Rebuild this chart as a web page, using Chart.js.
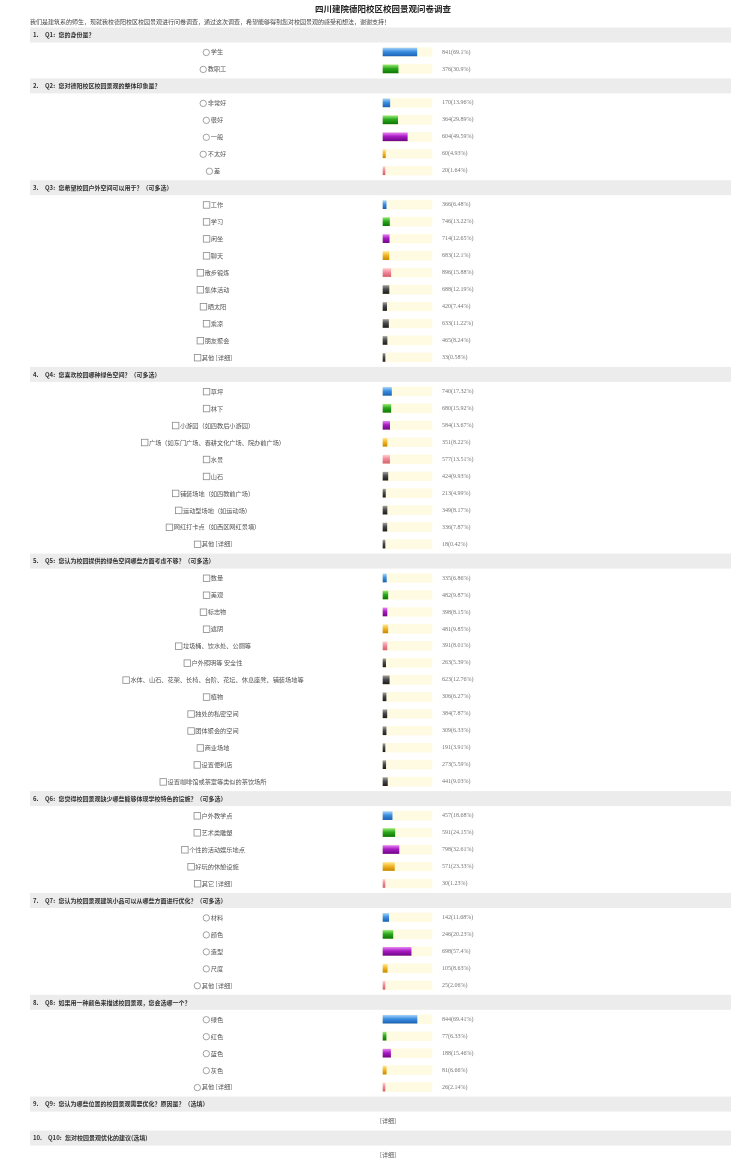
<!DOCTYPE html>
<html>
<head>
<meta charset="utf-8">
<title>四川建院德阳校区校园景观问卷调查</title>
<script src="https://cdn.jsdelivr.net/npm/chart.js@4.4.0/dist/chart.umd.min.js"></script>
<style>
  html, body { margin: 0; padding: 0; background: #fff; }
  canvas { display: block; }
</style>
</head>
<body>
<canvas id="surveyChart" width="750" height="1161"></canvas>
<script>
const surveyTitle = "四川建院德阳校区校园景观问卷调查";
const surveyIntro = "我们是建筑系的师生，现就我校德阳校区校园景观进行问卷调查，通过这次调查，希望能够得到您对校园景观的感受和想法，谢谢支持！";

const questionTitles = [
  "您的身份是？",
  "您对德阳校区校园景观的整体印象是？",
  "您希望校园户外空间可以用于？（可多选）",
  "您喜欢校园哪种绿色空间？（可多选）",
  "您认为校园提供的绿色空间哪些方面考虑不够？（可多选）",
  "您觉得校园景观缺少哪些能够体现学校特色的设施？（可多选）",
  "您认为校园景观建筑小品可以从哪些方面进行优化？（可多选）",
  "如果用一种颜色来描述校园景观，您会选哪一个？",
  "您认为哪些位置的校园景观需要优化？原因是？（选填）",
  "您对校园景观优化的建议(选填)"
];
const questionTypes = ["radio", "radio", "check", "check", "check", "check", "radio", "radio", "text", "text"];

const q1Options = ["学生", "教职工"];
const q1Counts = [841, 376];
const q1Percents = [69.1, 30.9];

const q2Options = ["非常好", "很好", "一般", "不太好", "差"];
const q2Counts = [170, 364, 604, 60, 20];
const q2Percents = [13.96, 29.89, 49.59, 4.93, 1.64];

const q3Options = ["工作", "学习", "闲坐", "聊天", "散步锻炼", "集体活动", "晒太阳", "乘凉", "朋友聚会", "其他 [详细]"];
const q3Counts = [366, 746, 714, 683, 896, 688, 420, 633, 465, 33];
const q3Percents = [6.48, 13.22, 12.65, 12.1, 15.88, 12.19, 7.44, 11.22, 8.24, 0.58];

const q4Options = ["草坪", "林下", "小游园（如四教后小游园）", "广场（如东门广场、春耕文化广场、院办前广场）", "水景", "山石",
  "铺装场地（如四教前广场）", "运动型场地（如运动场）", "网红打卡点（如西区网红景墙）", "其他 [详细]"];
const q4Counts = [740, 680, 584, 351, 577, 424, 213, 349, 336, 18];
const q4Percents = [17.32, 15.92, 13.67, 8.22, 13.51, 9.93, 4.99, 8.17, 7.87, 0.42];

const q5Options = ["数量", "美观", "标志物", "遮阴", "垃圾桶、饮水处、公厕等", "户外照明等 安全性",
  "水体、山石、花架、长椅、台阶、花坛、休息座凳、铺装场地等", "植物", "独处的私密空间", "团体聚会的空间",
  "商业场地", "设置便利店", "设置咖啡馆或茶室等类似的茶饮场所"];
const q5Counts = [335, 482, 398, 481, 391, 263, 623, 306, 384, 309, 191, 273, 441];
const q5Percents = [6.86, 9.87, 8.15, 9.85, 8.01, 5.39, 12.76, 6.27, 7.87, 6.33, 3.91, 5.59, 9.03];

const q6Options = ["户外教学点", "艺术类雕塑", "个性的活动娱乐地点", "好玩的休憩设施", "其它 [详细]"];
const q6Counts = [457, 591, 798, 571, 30];
const q6Percents = [18.68, 24.15, 32.61, 23.33, 1.23];

const q7Options = ["材料", "颜色", "造型", "尺度", "其他 [详细]"];
const q7Counts = [142, 246, 698, 105, 25];
const q7Percents = [11.68, 20.23, 57.4, 8.63, 2.06];

const q8Options = ["绿色", "红色", "蓝色", "灰色", "其他 [详细]"];
const q8Counts = [844, 77, 188, 81, 26];
const q8Percents = [69.41, 6.33, 15.46, 6.66, 2.14];

const optionLists = [q1Options, q2Options, q3Options, q4Options, q5Options, q6Options, q7Options, q8Options, [], []];
const countLists = [q1Counts, q2Counts, q3Counts, q4Counts, q5Counts, q6Counts, q7Counts, q8Counts, [], []];
const percentLists = [q1Percents, q2Percents, q3Percents, q4Percents, q5Percents, q6Percents, q7Percents, q8Percents, [], []];

// bar colours by option position: light top, middle, dark bottom
const barColors = [
  ["#9fd0fa", "#3d8fe0", "#1b63b8"],
  ["#8ee670", "#2ca81c", "#0d7806"],
  ["#e27cf2", "#a81cc2", "#72078a"],
  ["#ffe488", "#f2b628", "#c88a00"],
  ["#ffc8d0", "#f28a9a", "#d8606e"],
  ["#9a9a9a", "#4a4a4a", "#1e1e1e"]
];

// one row per line of the page
const rows = [];
questionTitles.forEach((title, qi) => {
  rows.push({ kind: "header", qi: qi });
  if (questionTypes[qi] === "text") {
    rows.push({ kind: "detail", qi: qi });
  } else {
    optionLists[qi].forEach((opt, oi) => {
      rows.push({
        kind: "option", qi: qi, oi: oi, label: opt,
        count: countLists[qi][oi], pct: percentLists[qi][oi]
      });
    });
  }
});

const rowIds = rows.map((r, i) => "r" + i);
const barValues = rows.map((r) => (r.kind === "option" ? r.pct : null));
const trackValues = rows.map((r) => (r.kind === "option" ? 100 : null));

const cjk = "'Noto Sans CJK SC', 'Noto Sans', sans-serif";

const pagePlugin = {
  id: "pageText",
  beforeDraw(chart) {
    const ctx = chart.ctx;
    const y = chart.scales.y;
    ctx.save();
    ctx.fillStyle = "#fff";
    ctx.fillRect(0, 0, chart.width, chart.height);

    ctx.textBaseline = "middle";
    ctx.fillStyle = "#222";
    ctx.font = "bold 8.5px " + cjk;
    ctx.textAlign = "center";
    ctx.fillText(surveyTitle, 383, 9);

    ctx.textAlign = "left";
    ctx.fillStyle = "#444";
    ctx.font = "6px " + cjk;
    ctx.fillText(surveyIntro, 30, 22);

    rows.forEach((r, i) => {
      const py = y.getPixelForValue(i);
      if (r.kind === "header") {
        ctx.fillStyle = "#ececec";
        ctx.fillRect(30, py - 7.5, 701, 15);
        ctx.fillStyle = "#333";
        ctx.font = "bold 6px " + cjk;
        ctx.textAlign = "left";
        const num = r.qi + 1;
        ctx.fillText(num + ".", 33, py);
        const qx = num > 9 ? 48 : 45;
        ctx.fillText("Q" + num + ":", qx, py);
        ctx.fillText(questionTitles[r.qi], qx + ctx.measureText("Q" + num + ": ").width + 2, py);
      } else if (r.kind === "detail") {
        ctx.fillStyle = "#555";
        ctx.font = "6px " + cjk;
        ctx.textAlign = "left";
        ctx.fillText("[详细]", 380, py);
      } else {
        ctx.font = "6.2px " + cjk;
        const tw = ctx.measureText(r.label).width;
        const markW = 8;
        const startX = 213 - (tw + markW) / 2;
        ctx.strokeStyle = "#8a8a8a";
        ctx.lineWidth = 0.8;
        if (questionTypes[r.qi] === "radio") {
          ctx.beginPath();
          ctx.arc(startX + 3.5, py + 0.5, 3.2, 0, Math.PI * 2);
          ctx.stroke();
        } else {
          ctx.strokeRect(startX + 0.5, py - 3, 6.5, 6.5);
        }
        ctx.fillStyle = "#555";
        ctx.textAlign = "left";
        ctx.fillText(r.label, startX + markW, py);

        ctx.fillStyle = "#777";
        ctx.font = "6px 'Liberation Serif', serif";
        ctx.fillText(r.count + "(" + r.pct + "%)", 442, py);
      }
    });
    ctx.restore();
  }
};

const barFill = (context) => {
  const chart = context.chart;
  const r = rows[context.dataIndex];
  if (!r || r.kind !== "option") return "#ccc";
  const c = barColors[Math.min(r.oi, barColors.length - 1)];
  if (!chart.chartArea || !chart.scales.y) return c[1];
  const py = chart.scales.y.getPixelForValue(context.dataIndex);
  const g = chart.ctx.createLinearGradient(0, py - 4, 0, py + 4);
  g.addColorStop(0, c[0]);
  g.addColorStop(0.45, c[1]);
  g.addColorStop(1, c[2]);
  return g;
};

new Chart(document.getElementById("surveyChart").getContext("2d"), {
  type: "bar",
  data: {
    labels: rowIds,
    datasets: [
      {
        label: "占比",
        data: barValues,
        backgroundColor: barFill,
        barThickness: 8,
        minBarLength: 2,
        grouped: false,
        clip: false
      },
      {
        label: "底条",
        data: trackValues,
        backgroundColor: "#fffbe3",
        barThickness: 9,
        grouped: false,
        clip: false
      }
    ]
  },
  options: {
    indexAxis: "y",
    responsive: false,
    animation: false,
    layout: { padding: { left: 383, right: 318, top: 35, bottom: 6 } },
    scales: {
      x: { type: "linear", min: 0, max: 100, display: false, grid: { display: false } },
      y: { type: "category", offset: false, display: false, grid: { display: false } }
    },
    plugins: {
      legend: { display: false },
      tooltip: { enabled: false }
    }
  },
  plugins: [pagePlugin]
});
</script>
</body>
</html>
